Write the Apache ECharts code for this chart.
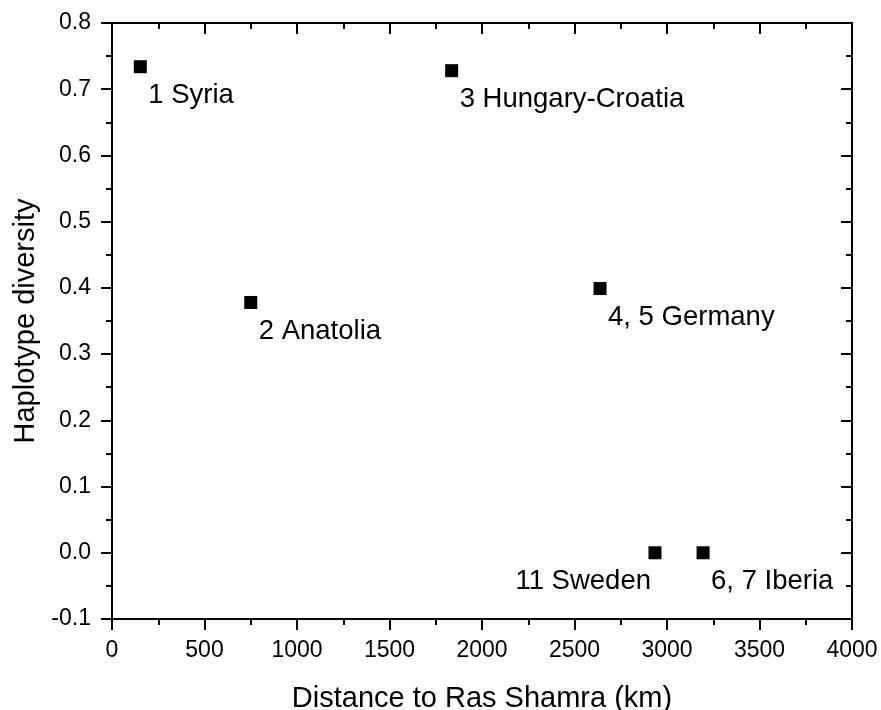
<!DOCTYPE html>
<html><head><meta charset="utf-8">
<script src="https://cdn.jsdelivr.net/npm/echarts@6/dist/echarts.min.js"></script>
<style>html,body{margin:0;padding:0;background:#fff}#c{width:881px;height:710px}</style>
</head><body><div id="c"></div>
<script>
const names = ['1 Syria','2 Anatolia','3 Hungary-Croatia','4, 5 Germany','11 Sweden','6, 7 Iberia'];
const distances = [153, 750, 1836, 2638, 2935, 3195];
const diversity = [0.734, 0.378, 0.728, 0.399, 0.0, 0.0];
const xTicks = [0,500,1000,1500,2000,2500,3000,3500,4000];
const yTicks = [-0.1,0,0.1,0.2,0.3,0.4,0.5,0.6,0.7,0.8];
const leftLabelled = ['11 Sweden'];

const font = "'Liberation Sans', Arial, sans-serif";
const SYM = 13;
const data = names.map((n,i)=>{
  const toLeft = leftLabelled.includes(n);
  return {
    value:[distances[i], diversity[i]], name:n,
    label:{show:true, formatter:n,
      position:[toLeft ? SYM/2 - 4 : SYM/2 + 8, SYM/2 + 29],
      align: toLeft ? 'right' : 'left', verticalAlign:'middle',
      color:'#000', fontSize:27.5, fontFamily:font}
  };
});

const tickStyle = {color:'#000', width:2};
const axisLine = {show:true, onZero:false, lineStyle:{color:'#000', width:2}};
const chart = echarts.init(document.getElementById('c'));
chart.setOption({
  animation:false,
  grid:{left:112, right:29, top:23, bottom:91, containLabel:false, outerBoundsMode:'none'},
  xAxis:[{
    type:'value', min:xTicks[0], max:xTicks[xTicks.length-1], interval:500, position:'bottom',
    axisLine, axisTick:{show:true, inside:false, length:11, lineStyle:tickStyle},
    minorTick:{show:true, splitNumber:2, length:6, lineStyle:tickStyle},
    splitLine:{show:false},
    axisLabel:{color:'#000', fontSize:23, fontFamily:font, margin:20, formatter:v=>String(v)},
    name:'Distance to Ras Shamra (km)', nameLocation:'middle', nameGap:65,
    nameTextStyle:{color:'#000', fontSize:29, fontFamily:font}
  },{
    type:'value', min:0, max:4000, interval:500, position:'top',
    axisLine, axisTick:{show:true, inside:true, length:11, lineStyle:tickStyle},
    minorTick:{show:true, splitNumber:2, length:6, lineStyle:tickStyle},
    splitLine:{show:false}, axisLabel:{show:false}
  }],
  yAxis:[{
    type:'value', min:yTicks[0], max:yTicks[yTicks.length-1], interval:0.1, position:'left',
    axisLine, axisTick:{show:true, inside:false, length:11, lineStyle:tickStyle},
    minorTick:{show:true, splitNumber:2, length:6, lineStyle:tickStyle},
    splitLine:{show:false},
    axisLabel:{color:'#000', fontSize:23, fontFamily:font, margin:21, formatter:v=>v.toFixed(1)},
    name:'Haplotype diversity', nameLocation:'middle', nameGap:72, nameRotate:90,
    nameTextStyle:{color:'#000', fontSize:29, fontFamily:font}
  },{
    type:'value', min:-0.1, max:0.8, interval:0.1, position:'right',
    axisLine, axisTick:{show:true, inside:true, length:11, lineStyle:tickStyle},
    minorTick:{show:true, splitNumber:2, length:6, lineStyle:tickStyle},
    splitLine:{show:false}, axisLabel:{show:false}
  }],
  series:[{
    type:'scatter', xAxisIndex:0, yAxisIndex:0,
    symbol:'rect', symbolSize:SYM, itemStyle:{color:'#000', opacity:1},
    emphasis:{disabled:true},
    data
  }]
});
</script></body></html>
